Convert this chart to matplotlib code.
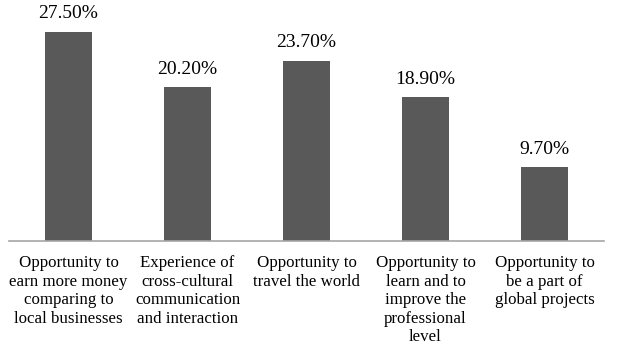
import matplotlib.pyplot as plt

categories = [
    "Opportunity to\nearn more money\ncomparing to\nlocal businesses",
    "Experience of\ncross-cultural\ncommunication\nand interaction",
    "Opportunity to\ntravel the world",
    "Opportunity to\nlearn and to\nimprove the\nprofessional\nlevel",
    "Opportunity to\nbe a part of\nglobal projects",
]
values = [27.5, 20.2, 23.7, 18.9, 9.7]
value_labels = ["27.50%", "20.20%", "23.70%", "18.90%", "9.70%"]

plt.rcParams['font.family'] = ['Liberation Serif', 'DejaVu Serif']

fig = plt.figure(figsize=(6.19, 3.55), dpi=100)
ax = fig.add_axes([9 / 619, (355 - 241) / 355, 595 / 619, 241 / 355])

x = range(len(values))
bars = ax.bar(x, values, width=0.4, color="#595959")
for b, lab in zip(bars, value_labels):
    ax.annotate(lab, (b.get_x() + b.get_width() / 2, b.get_height()),
                xytext=(0, 7), textcoords="offset points",
                ha="center", va="bottom", fontsize=14)

ax.set_xlim(-0.5, 4.5)
ax.set_ylim(0, 31.7)
ax.set_xticks(list(x))
ax.set_xticklabels(categories, fontsize=12.2, linespacing=1.22, va="top")
ax.tick_params(axis="x", length=0, pad=10)
ax.set_yticks([])
for s in ["top", "right", "left"]:
    ax.spines[s].set_visible(False)
ax.spines["bottom"].set_color("#a6a6a6")
ax.spines["bottom"].set_linewidth(1.2)

fig.savefig("out.png", dpi=100)
